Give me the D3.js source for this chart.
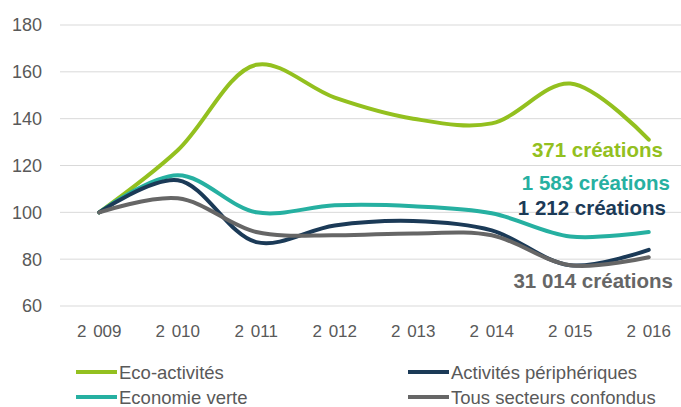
<!DOCTYPE html>
<html>
<head>
<meta charset="utf-8">
<script src="https://cdn.jsdelivr.net/npm/d3@7"></script>
<style>
  body { margin: 0; background: #fff; overflow: hidden; }
  text { font-family: "Liberation Sans", Arial, sans-serif; }
</style>
</head>
<body>
<div id="chart"></div>
<script>
const width = 681;
const height = 407;

const years = ['2 009', '2 010', '2 011', '2 012', '2 013', '2 014', '2 015', '2 016'];
const yTicks = [60, 80, 100, 120, 140, 160, 180];

const seriesNames = ['Eco-activités', 'Economie verte', 'Activités périphériques', 'Tous secteurs confondus'];
const ecoActivites = [100, 126.5, 163, 149, 140, 138, 155, 131];
const economieVerte = [100, 115.8, 100, 103, 102.6, 99.6, 89.7, 91.6];
const activitesPeripheriques = [100, 113.7, 87.3, 94.4, 96.3, 92.3, 77.4, 84];
const tousSecteurs = [100, 106, 91.6, 90.2, 91, 90.2, 77.4, 80.8];
const endLabels = ['371 créations', '1 583 créations', '1 212 créations', '31 014 créations'];

const colors = ['#93c01f', '#26b0a1', '#1b3a57', '#666666'];
const labelPos = [[663, 157], [670, 190], [666, 215], [673, 288]];

const series = seriesNames.map((name, i) => ({
  name: name,
  values: [ecoActivites, economieVerte, activitesPeripheriques, tousSecteurs][i],
  color: colors[i],
  label: endLabels[i]
}));

const svg = d3.select('#chart')
  .append('svg')
  .attr('width', width)
  .attr('height', height);

const x = d3.scalePoint().domain(years).range([60, 688]).padding(0.5);
const y = d3.scaleLinear().domain([60, 180]).range([306, 25]);

// grid lines
svg.append('g')
  .selectAll('line')
  .data(yTicks)
  .enter()
  .append('line')
  .attr('x1', 60)
  .attr('x2', width)
  .attr('y1', d => y(d))
  .attr('y2', d => y(d))
  .attr('stroke', '#d9d9d9')
  .attr('stroke-width', 1);

// y labels
svg.append('g')
  .selectAll('text')
  .data(yTicks)
  .enter()
  .append('text')
  .attr('x', 42)
  .attr('y', d => y(d))
  .attr('dy', '0.36em')
  .attr('text-anchor', 'end')
  .attr('font-size', 18)
  .attr('fill', '#595959')
  .text(d => d);

// x labels
svg.append('g')
  .selectAll('text')
  .data(years)
  .enter()
  .append('text')
  .attr('x', d => x(d))
  .attr('y', 337)
  .attr('text-anchor', 'middle')
  .attr('font-size', 17)
  .style('word-spacing', '2px')
  .attr('fill', '#595959')
  .text(d => d);

const line = d3.line()
  .x((d, i) => x(years[i]))
  .y(d => y(d))
  .curve(d3.curveCatmullRom.alpha(0.5));

svg.append('g')
  .selectAll('path')
  .data(series)
  .enter()
  .append('path')
  .attr('d', d => line(d.values))
  .attr('fill', 'none')
  .attr('stroke', d => d.color)
  .attr('stroke-width', 4)
  .attr('stroke-linecap', 'round');

// end labels
svg.append('g')
  .selectAll('text')
  .data(series)
  .enter()
  .append('text')
  .attr('x', (d, i) => labelPos[i][0])
  .attr('y', (d, i) => labelPos[i][1])
  .attr('text-anchor', 'end')
  .attr('font-size', 20.5)
  .attr('font-weight', 'bold')
  .attr('fill', d => d.color)
  .text(d => d.label);

// legend (column first, like Excel)
const legendPos = [[76, 372], [76, 397], [408, 372], [408, 397]];
const legend = svg.append('g')
  .selectAll('g')
  .data(series)
  .enter()
  .append('g')
  .attr('transform', (d, i) => `translate(${legendPos[i][0]},${legendPos[i][1]})`);

legend.append('line')
  .attr('x1', 0)
  .attr('x2', 41)
  .attr('stroke', d => d.color)
  .attr('stroke-width', 4);

legend.append('text')
  .attr('x', 43)
  .attr('y', 7)
  .attr('font-size', 18.5)
  .attr('fill', '#595959')
  .text(d => d.name);
</script>
</body>
</html>
